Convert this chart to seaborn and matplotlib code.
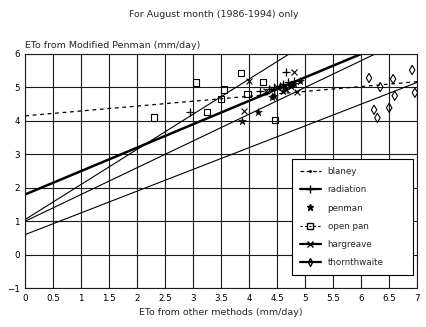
import matplotlib
matplotlib.use("Agg")
import matplotlib.pyplot as plt
from matplotlib.lines import Line2D
import numpy as np
import pandas as pd
import seaborn as sns

# ---------------- data ----------------
title = "For August month (1986-1994) only"
ylabel = "ETo from Modified Penman (mm/day)"
xlabel = "ETo from other methods (mm/day)"

x_ticks = [0, 0.5, 1, 1.5, 2, 2.5, 3, 3.5, 4, 4.5, 5, 5.5, 6, 6.5, 7]
x_tick_labels = ["0", "0.5", "1", "1.5", "2", "2.5", "3", "3.5", "4", "4.5",
                 "5", "5.5", "6", "6.5", "7"]
y_ticks = [-1, 0, 1, 2, 3, 4, 5, 6]

methods = ["blaney", "radiation", "penman", "open pan", "hargreave", "thornthwaite"]

# regression lines: intercept, slope
line_intercepts = {"blaney": 4.15, "radiation": 1.8, "penman": 1.0,
                   "hargreave": 1.05, "thornthwaite": 0.6}
line_slopes = {"blaney": 0.146, "radiation": 0.70, "penman": 0.80,
               "hargreave": 1.05, "thornthwaite": 0.65}

radiation_x = [2.95, 4.2, 4.35, 4.45, 4.55, 4.6, 4.7, 4.8, 4.65]
radiation_y = [4.25, 4.9, 4.95, 5.0, 5.05, 5.1, 5.15, 5.2, 5.45]

penman_x = [3.88, 4.15, 4.4, 4.45, 4.6, 4.65, 4.75, 4.8, 4.9]
penman_y = [4.0, 4.27, 4.7, 4.75, 4.9, 4.95, 5.05, 5.1, 5.2]

openpan_x = [2.3, 3.05, 3.25, 3.5, 3.55, 3.85, 3.97, 4.25, 4.46]
openpan_y = [4.1, 5.15, 4.27, 4.65, 4.93, 5.43, 4.8, 5.16, 4.03]

hargreave_x = [3.9, 4.0, 4.3, 4.4, 4.5, 4.6, 4.75, 4.85, 4.8]
hargreave_y = [4.3, 5.2, 4.9, 4.95, 5.0, 5.05, 5.1, 4.85, 5.45]

thornthwaite_x = [6.14, 6.34, 6.57, 6.6, 6.91, 6.96, 6.23, 6.29, 6.5]
thornthwaite_y = [5.28, 5.01, 5.25, 4.75, 5.52, 4.84, 4.33, 4.09, 4.39]

# ---------------- figure ----------------
sns.set_theme(style="white")
plt.rcParams["font.family"] = ["DejaVu Sans"]

fig = plt.figure(figsize=(4.27, 3.27), dpi=100)
ax = fig.add_axes([0.059, 0.119, 0.918, 0.716])

xmin, xmax = 0, 7
ymin, ymax = -1, 6
ax.set_xlim(xmin, xmax)
ax.set_ylim(ymin, ymax)

# grid
ax.set_xticks(x_ticks)
ax.set_xticklabels(x_tick_labels)
ax.set_yticks(y_ticks)
ax.grid(True, color="#1a1a1a", linewidth=0.8)
ax.set_axisbelow(True)
for s in ax.spines.values():
    s.set_color("#1a1a1a")
    s.set_linewidth(0.8)

ax.tick_params(axis="both", labelsize=6.3, length=0, pad=4, colors="black")

# regression lines
line_styles = {
    "blaney": dict(lw=0.9, ls=(0, (3, 3))),
    "radiation": dict(lw=1.8, ls="-"),
    "penman": dict(lw=0.8, ls="-"),
    "hargreave": dict(lw=0.8, ls="-"),
    "thornthwaite": dict(lw=0.8, ls="-"),
}
xs = np.linspace(xmin, xmax, 50)
for m in ["blaney", "radiation", "penman", "hargreave", "thornthwaite"]:
    ys = line_intercepts[m] + line_slopes[m] * xs
    df = pd.DataFrame({"x": xs, "y": ys})
    sns.lineplot(data=df, x="x", y="y", ax=ax, color="black",
                 linewidth=line_styles[m]["lw"], linestyle=line_styles[m]["ls"],
                 estimator=None, sort=False)

# points
sns.scatterplot(x=radiation_x, y=radiation_y, ax=ax, marker="+", color="black",
                s=30, linewidth=0.9)
sns.scatterplot(x=penman_x, y=penman_y, ax=ax, marker="*", color="black",
                s=35, linewidth=0.3, edgecolor="black")
sns.scatterplot(x=openpan_x, y=openpan_y, ax=ax, marker="s", s=22,
                facecolor="none", edgecolor="black", linewidth=0.8)
sns.scatterplot(x=hargreave_x, y=hargreave_y, ax=ax, marker="x", color="black",
                s=18, linewidth=0.8)
sns.scatterplot(x=thornthwaite_x, y=thornthwaite_y, ax=ax, marker="d", s=22,
                facecolor="none", edgecolor="black", linewidth=0.8)

ax.set_xlabel(xlabel, fontsize=6.8, labelpad=4)
ax.set_ylabel("")
fig.text(0.5, 0.955, title, ha="center", va="center", fontsize=6.8)
ax.text(0.0, 1.015, ylabel, transform=ax.transAxes, ha="left", va="bottom",
        fontsize=6.8)

# legend
handles = [
    Line2D([], [], color="black", lw=0.9, ls=(0, (3, 2)), marker=".", markersize=2),
    Line2D([], [], color="black", lw=1.6, marker="+", markersize=6),
    Line2D([], [], color="black", lw=0, marker="*", markersize=5),
    Line2D([], [], color="black", lw=0.8, ls=(0, (2, 2)), marker="s",
           markerfacecolor="none", markersize=4),
    Line2D([], [], color="black", lw=1.6, marker="x", markersize=4),
    Line2D([], [], color="black", lw=1.6, marker="d", markerfacecolor="none",
           markersize=4),
]
leg = ax.legend(handles, methods, loc="lower left",
                bbox_to_anchor=(0.68, 0.056, 0.31, 0.478), mode="expand",
                fontsize=6.3, frameon=True,
                fancybox=False, edgecolor="black", framealpha=1,
                handlelength=2.4, labelspacing=1.05, borderpad=0.9,
                handletextpad=0.8, borderaxespad=0)
leg.get_frame().set_linewidth(0.8)

fig.savefig("out.png", dpi=100)
